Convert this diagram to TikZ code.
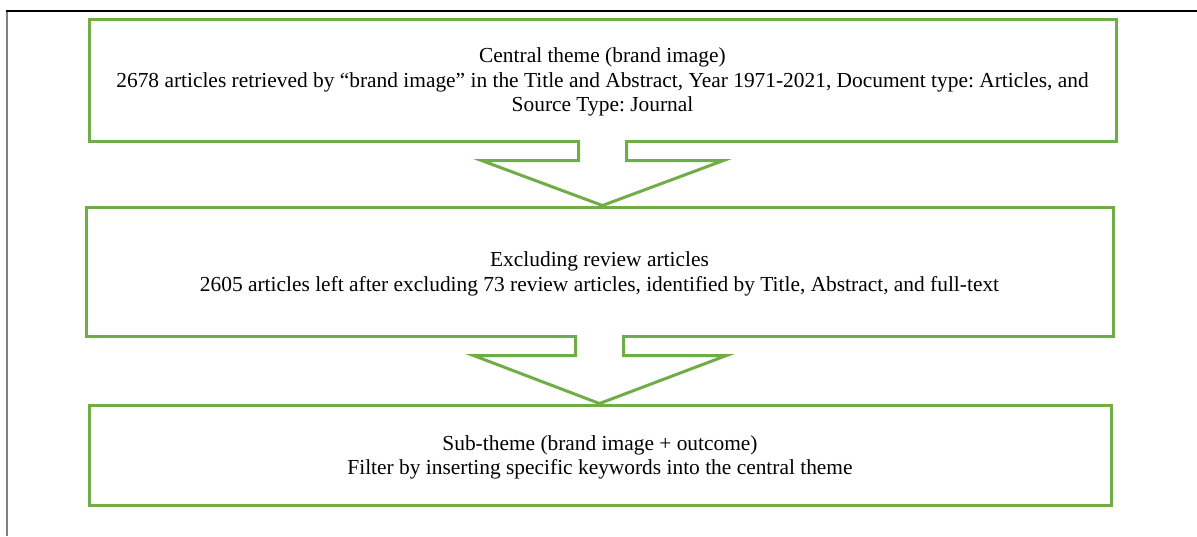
\documentclass[tikz,border=0pt]{standalone}
\usepackage{fontspec}
\setmainfont{Liberation Serif}
\usepackage{tikz}
\usetikzlibrary{calc}
\definecolor{flowGreen}{RGB}{112,173,71}
\frenchspacing

\begin{document}
\begin{tikzpicture}[x=1pt,y=-1pt,
    stagebox/.style={rectangle,draw=flowGreen,line width=3pt,fill=white,
                     align=center,inner sep=0pt,text depth=-7pt,
                     font=\fontsize{21.4}{24.5}\selectfont},
    blockarr/.style={draw=flowGreen,line width=3pt,line join=miter}]

    \useasboundingbox (0,0) rectangle (1197,536);

    % page frame
    \draw[gray,line width=2pt] (7,11) -- (7,536);
    \draw[black,line width=1.2pt] (6,11) -- (1197,11);

    % stages
    \node[stagebox,minimum width=1027,minimum height=122] (central) at (602.5,80)
      {Central theme (brand image)\\
       2678 articles retrieved by ``brand image'' in the Title and Abstract, Year 1971-2021, Document type: Articles, and\\
       Source Type: Journal};
    \node[stagebox,minimum width=1027,minimum height=129] (exclude) at (599.5,271.5)
      {Excluding review articles\\
       2605 articles left after excluding 73 review articles, identified by Title, Abstract, and full-text};
    \node[stagebox,minimum width=1022,minimum height=100] (subtheme) at (600,455)
      {Sub-theme (brand image + outcome)\\
       Filter by inserting specific keywords into the central theme};

    % block arrows
    \fill[white] ($(central.south)+(-22.5,-3)$) rectangle ($(central.south)+(22.5,3)$);
    \draw[blockarr] ($(central.south)+(-24,0)$) -- ($(central.south)+(-24,18)$)
      -- ($(central.south)+(-121,18)$) -- (central.south |- exclude.north)
      -- ($(central.south)+(121,18)$) -- ($(central.south)+(24,18)$)
      -- ($(central.south)+(24,0)$);

    \fill[white] ($(exclude.south)+(-22.5,-3)$) rectangle ($(exclude.south)+(22.5,3)$);
    \draw[blockarr] ($(exclude.south)+(-24,0)$) -- ($(exclude.south)+(-24,18)$)
      -- ($(exclude.south)+(-126,18)$) -- (exclude.south |- subtheme.north)
      -- ($(exclude.south)+(127,18)$) -- ($(exclude.south)+(24,18)$)
      -- ($(exclude.south)+(24,0)$);
\end{tikzpicture}
\end{document}
